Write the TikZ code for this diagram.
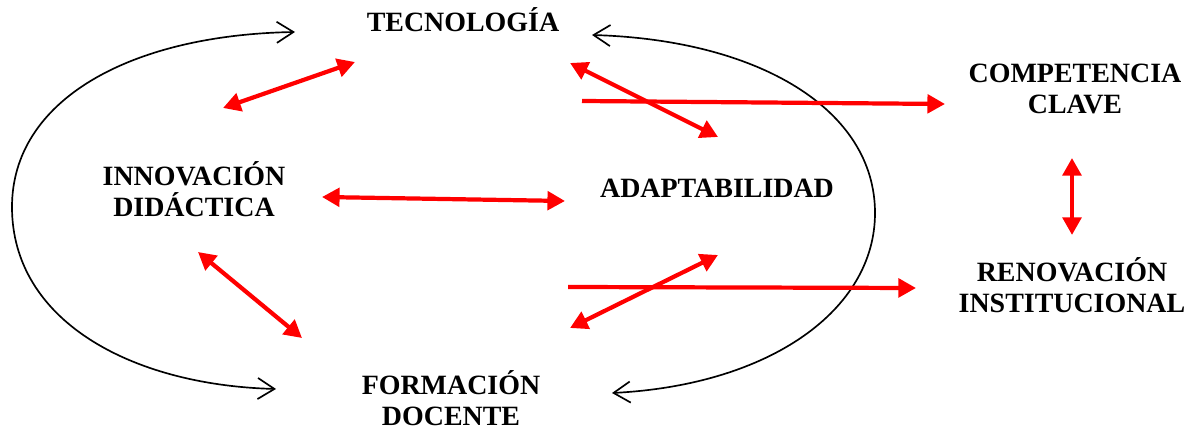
\documentclass[tikz,border=0pt]{standalone}
\usepackage{fontspec}
\setmainfont{Liberation Serif}
\usetikzlibrary{arrows.meta}

\begin{document}
\begin{tikzpicture}[
        x=0.02cm, y=-0.02cm,
        term/.style={font=\bfseries\fontsize{15.9}{18}\selectfont, align=center, inner sep=0pt},
        twoway/.style={draw=red, line width=2.4pt, {Triangle[length=10pt, width=10.5pt]}-{Triangle[length=10pt, width=10.5pt]}},
        oneway/.style={draw=red, line width=2.4pt, -{Triangle[length=10pt, width=10.5pt]}},
        cyclearc/.style={draw=black, line width=0.95pt, {Straight Barb[length=9.5pt, width=12pt]}-{Straight Barb[length=9.5pt, width=12pt]}}
    ]
    \useasboundingbox (0,0) rectangle (1190,431);

    \node[term, anchor=base] (tec) at (463,32) {TECNOLOGÍA};
    \node[term] (comp) at (1075,89) {COMPETENCIA\\CLAVE};
    \node[term] (innov) at (194,189) {INNOVACIÓN\\DIDÁCTICA};
    \node[term, anchor=base] (adapt) at (717,198) {ADAPTABILIDAD};
    \node[term] (renov) at (1072,285) {RENOVACIÓN\\INSTITUCIONAL};
    \node[term] (form) at (451,398) {FORMACIÓN\\DOCENTE};

    % free ends of the red links
    \coordinate (tecSW) at (355,62);
    \coordinate (innovNE) at (223,108);
    \coordinate (tecSE) at (570,63);
    \coordinate (adaptNW) at (718,137);
    \coordinate (compFrom) at (582,101);
    \coordinate (compW) at (945,104);
    \coordinate (innovE) at (322,197);
    \coordinate (adaptW) at (565,201);
    \coordinate (innovS) at (198,252);
    \coordinate (formNW) at (302,338);
    \coordinate (adaptSW) at (718,255);
    \coordinate (formNE) at (570,328);
    \coordinate (renovFrom) at (568,287);
    \coordinate (renovW) at (916,288);
    \coordinate (compS) at (1072,158);
    \coordinate (renovN) at (1072,235);

    % ends of the two black loops
    \coordinate (leftTop) at (295,32);
    \coordinate (leftMid) at (12,207);
    \coordinate (leftBot) at (276,389);
    \coordinate (rightTop) at (592,35);
    \coordinate (rightMid) at (875,213);
    \coordinate (rightBot) at (612,393);

    \draw[cyclearc] (leftTop) .. controls (130,35) and (12,100) .. (leftMid)
        .. controls (12,320) and (130,385) .. (leftBot);
    \draw[cyclearc] (rightTop) .. controls (760,40) and (875,110) .. (rightMid)
        .. controls (875,310) and (770,385) .. (rightBot);

    \draw[twoway] (innovNE) -- (tecSW);
    \draw[twoway] (tecSE) -- (adaptNW);
    \draw[oneway] (compFrom) -- (compW);
    \draw[twoway] (innovE) -- (adaptW);
    \draw[twoway] (innovS) -- (formNW);
    \draw[twoway] (formNE) -- (adaptSW);
    \draw[oneway] (renovFrom) -- (renovW);
    \draw[twoway] (compS) -- (renovN);
\end{tikzpicture}
\end{document}
